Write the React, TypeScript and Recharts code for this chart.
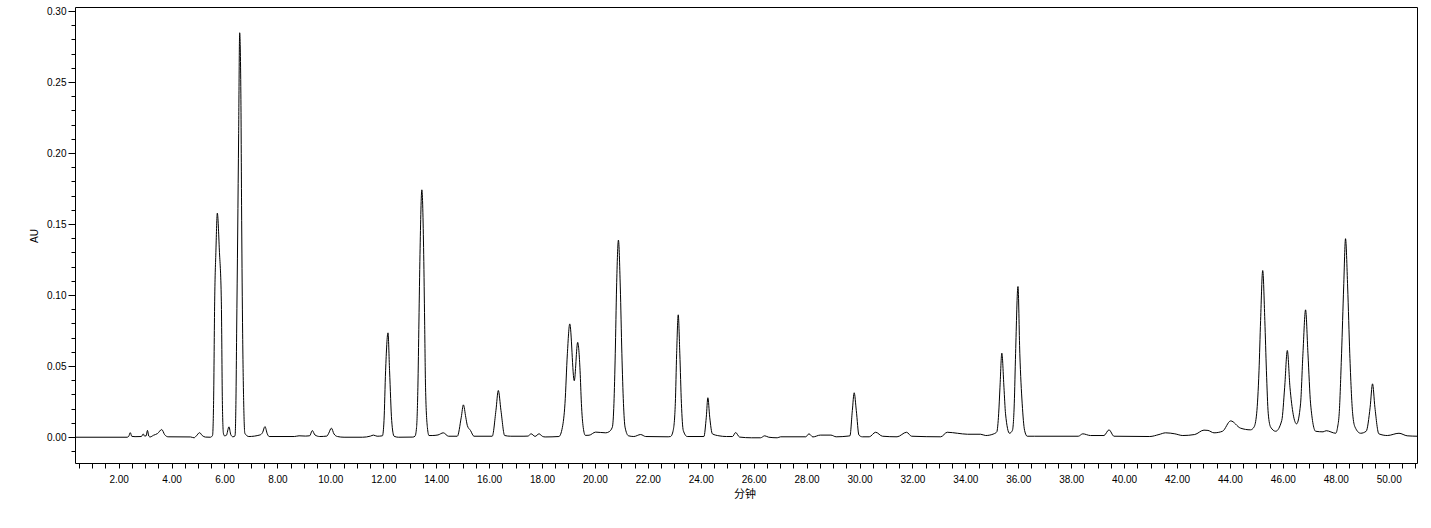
import { LineChart, Line, XAxis, YAxis, ReferenceLine } from 'recharts'

// retention time (min) and detector response (AU)
const TIME_MIN = [
  0.35, 2.3, 2.36, 2.42, 2.48, 2.6, 2.84, 2.91, 2.96, 3.02, 3.07, 3.12, 3.17, 3.3, 3.45, 3.61, 3.72, 3.85,
  4.7, 4.83, 4.92, 5.04, 5.14, 5.26, 5.45, 5.53, 5.57, 5.61, 5.658, 5.71, 5.787, 5.862, 5.9, 5.94,
  5.98, 6.05, 6.15, 6.22, 6.3, 6.38, 6.414, 6.44, 6.48, 6.516, 6.555, 6.6, 6.63, 6.667, 6.705, 6.75,
  6.9, 7.32, 7.42, 7.51, 7.6, 7.67, 8.62, 8.8, 9.05, 9.2, 9.3, 9.4, 9.58, 9.85, 9.92, 10.02, 10.12, 10.25,
  10.5, 11.2, 11.5, 11.61, 11.75, 11.95, 12.01, 12.07, 12.16, 12.22, 12.3, 12.39, 12.55,
  13.1, 13.18, 13.24, 13.29, 13.33, 13.37, 13.44, 13.51, 13.545, 13.58, 13.65, 13.71, 13.83,
  14.05, 14.25, 14.45, 14.78, 14.93, 15.01, 15.1, 15.16, 15.28, 15.41,
  16.1, 16.24, 16.33, 16.43, 16.57, 16.8, 17.3, 17.45, 17.57, 17.72, 17.87, 18.0, 18.1,
  18.62, 18.75, 18.85, 18.94, 19.03, 19.2, 19.33, 19.42, 19.47, 19.54, 19.62, 19.76, 20.01, 20.39,
  20.51, 20.64, 20.7, 20.75, 20.8, 20.87, 20.94, 21.0, 21.06, 21.12, 21.25, 21.45, 21.71, 21.9,
  22.75, 22.84, 22.94, 23.02, 23.07, 23.13, 23.19, 23.25, 23.32, 23.47,
  24.1, 24.19, 24.25, 24.32, 24.42, 24.67, 24.95, 25.18, 25.3, 25.45, 25.9, 26.24, 26.4, 26.55,
  26.87, 27.0, 27.95, 28.07, 28.22, 28.5, 28.9, 29.1, 29.55, 29.62, 29.71, 29.78, 29.86, 29.96, 30.09,
  30.35, 30.59, 30.85, 31.4, 31.76, 31.95, 33.05, 33.3, 33.68, 34.06, 34.56, 34.75, 35.06,
  35.17, 35.24, 35.29, 35.36, 35.44, 35.5, 35.65, 35.76, 35.83, 35.88, 35.97, 36.04, 36.13, 36.22, 36.32,
  36.6, 38.25, 38.42, 38.71, 39.22, 39.41, 39.6, 40.95, 41.3, 41.55, 41.9, 42.2, 42.65,
  43.0, 43.15, 43.38, 43.7, 44.01, 44.38, 44.76, 44.89, 44.99, 45.08, 45.14, 45.22, 45.3, 45.36, 45.43,
  45.52, 45.71, 45.94, 46.05, 46.15, 46.25, 46.5, 46.65, 46.74, 46.84, 46.93, 47.03, 47.22,
  47.5, 47.62, 47.98, 48.05, 48.11, 48.2, 48.28, 48.35, 48.43, 48.51, 48.62, 48.71, 48.92,
  49.13, 49.28, 49.37, 49.46, 49.61, 49.93, 50.37, 50.68, 51.06,
]

const ABSORBANCE_AU = [
  0.0002, 0.0002, 0.0008, 0.0034, 0.0008, 0.0006, 0.0007, 0.0025, 0.001, 0.0012, 0.005, 0.001, 0.0004, 0.0016, 0.0028, 0.0056, 0.002, 0.0005,
  0.0004, -0.0002, 0.0012, 0.0034, 0.0014, 0.0003, 0.0002, 0.0015, 0.026, 0.096, 0.132, 0.158, 0.132, 0.096, 0.026, 0.003,
  0.0012, 0.0015, 0.0075, 0.002, 0.0005, 0.0012, 0.026, 0.073, 0.144, 0.214, 0.285, 0.242, 0.153, 0.073, 0.026, 0.003,
  0.0007, 0.0018, 0.0035, 0.0077, 0.0025, 0.0007, 0.0007, 0.0012, 0.001, 0.0012, 0.0049, 0.0018, 0.0007, 0.001, 0.003, 0.0066, 0.0025, 0.0007,
  0.0002, 0.0002, 0.001, 0.0017, 0.0009, 0.0012, 0.012, 0.047, 0.0737, 0.047, 0.012, 0.0009, 0.0002,
  0.0003, 0.0009, 0.007, 0.035, 0.082, 0.129, 0.1744, 0.129, 0.082, 0.035, 0.007, 0.0014, 0.0014,
  0.0018, 0.0033, 0.0009, 0.0009, 0.0143, 0.023, 0.0143, 0.0084, 0.0049, 0.0009,
  0.0009, 0.019, 0.0331, 0.019, 0.0014, 0.0009, 0.0009, 0.001, 0.0026, 0.0008, 0.0026, 0.0008, 0.0004,
  0.0007, 0.007, 0.024, 0.059, 0.08, 0.04, 0.067, 0.047, 0.024, 0.007, 0.0015, 0.0016, 0.0038, 0.0033,
  0.004, 0.0073, 0.024, 0.059, 0.106, 0.139, 0.106, 0.059, 0.024, 0.0073, 0.0012, 0.0007, 0.0021, 0.0007,
  0.0005, 0.0007, 0.005, 0.024, 0.059, 0.0864, 0.059, 0.024, 0.005, 0.0007,
  0.0007, 0.0143, 0.028, 0.0143, 0.0026, 0.0012, 0.0007, 0.0007, 0.0035, 0.0003, -0.0002, -0.0002, 0.0012, 0.0002,
  -0.0002, 0.0005, 0.0005, 0.0026, 0.0004, 0.0017, 0.0017, 0.0005, 0.001, 0.0012, 0.019, 0.0315, 0.019, 0.0017, 0.0005,
  0.0005, 0.0037, 0.0009, 0.0005, 0.0037, 0.0009, 0.0005, 0.0037, 0.003, 0.0023, 0.0023, 0.0014, 0.0026,
  0.004, 0.0167, 0.0354, 0.0594, 0.0354, 0.0167, 0.003, 0.005, 0.0237, 0.059, 0.1063, 0.059, 0.0237, 0.005, 0.0009,
  0.0009, 0.0009, 0.0026, 0.0014, 0.0014, 0.0054, 0.0009, 0.0007, 0.0021, 0.0033, 0.0026, 0.0014, 0.0021,
  0.0052, 0.005, 0.0033, 0.0044, 0.0117, 0.0066, 0.0054, 0.0073, 0.0167, 0.047, 0.0824, 0.1176, 0.0824, 0.047, 0.0167,
  0.0073, 0.0044, 0.012, 0.0354, 0.0613, 0.0354, 0.0096, 0.0237, 0.059, 0.0899, 0.059, 0.0237, 0.0044,
  0.004, 0.0048, 0.003, 0.0073, 0.0167, 0.059, 0.106, 0.14, 0.106, 0.059, 0.0167, 0.0073, 0.003,
  0.0044, 0.0213, 0.0378, 0.0213, 0.0026, 0.0014, 0.003, 0.0012, 0.0009,
]

const X_LABELS = [2, 4, 6, 8, 10, 12, 14, 16, 18, 20, 22, 24, 26, 28, 30, 32, 34, 36, 38, 40, 42, 44, 46, 48, 50]
const Y_LABELS = [0, 0.05, 0.1, 0.15, 0.2, 0.25, 0.3]
const Y_TICKS = [
  -0.01, 0, 0.01, 0.02, 0.03, 0.04, 0.05, 0.06, 0.07, 0.08, 0.09, 0.1, 0.11, 0.12, 0.13, 0.14, 0.15,
  0.16, 0.17, 0.18, 0.19, 0.2, 0.21, 0.22, 0.23, 0.24, 0.25, 0.26, 0.27, 0.28, 0.29, 0.3,
]
// minor ticks every half minute
const X_TICKS = Array.from({ length: 102 }, (_, i) => (i + 1) * 0.5)

const X_DOMAIN: [number, number] = [0.35, 51.07]
const Y_DOMAIN: [number, number] = [-0.0183, 0.3028]

const chartData = TIME_MIN.map((t, i) => ({ t, au: ABSORBANCE_AU[i] }))

const tickFont = {
  fontFamily: '"Liberation Sans", Arial, sans-serif',
  fontSize: 10,
  fill: '#000',
}

const isLabel = (list: number[], v: number) => list.some((l) => Math.abs(l - v) < 1e-6)

function XTick({ x, y, payload }: any) {
  const v = payload.value
  const px = Math.floor(x) + 0.5
  return (
    <g>
      <line x1={px} x2={px} y1={y} y2={y + 5} stroke="#000" />
      {isLabel(X_LABELS, v) && (
        <text x={x} y={y + 19.5} textAnchor="middle" {...tickFont}>
          {v.toFixed(2)}
        </text>
      )}
    </g>
  )
}

function YTick({ x, y, payload }: any) {
  const v = payload.value
  const major = isLabel(Y_LABELS, v)
  const len = major ? 7 : 4
  const py = Math.floor(y) + 0.5
  return (
    <g>
      <line x1={x - len} x2={x} y1={py} y2={py} stroke="#000" />
      {major && (
        <text x={x - 9} y={y + 3.5} textAnchor="end" {...tickFont}>
          {v.toFixed(2)}
        </text>
      )}
    </g>
  )
}

export default function App() {
  return (
    <div style={{ position: 'absolute', left: 0, top: 0, width: 1431, height: 528, background: '#fff' }}>
      <LineChart
        width={1431}
        height={528}
        data={chartData}
        margin={{ top: 7.5, right: 13.5, bottom: 34.5, left: 15.5 }}
      >
        <XAxis
          dataKey="t"
          type="number"
          domain={X_DOMAIN}
          ticks={X_TICKS}
          interval={0}
          height={30}
          tickSize={0}
          tickMargin={0}
          tickLine={false}
          tick={<XTick />}
          axisLine={{ stroke: '#000' }}
        />
        <YAxis
          type="number"
          domain={Y_DOMAIN}
          ticks={Y_TICKS}
          interval={0}
          width={60}
          tickSize={0}
          tickMargin={0}
          tickLine={false}
          tick={<YTick />}
          axisLine={{ stroke: '#000' }}
        />
        <ReferenceLine y={Y_DOMAIN[1]} stroke="#000" ifOverflow="visible" />
        <ReferenceLine x={X_DOMAIN[1]} stroke="#000" ifOverflow="visible" />
        <Line
          type="monotone"
          dataKey="au"
          stroke="#000"
          strokeWidth={1}
          dot={false}
          isAnimationActive={false}
        />
      </LineChart>
      <div
        style={{
          position: 'absolute',
          left: 35,
          top: 236,
          transform: 'translate(-50%, -50%) rotate(-90deg)',
          fontFamily: '"Liberation Sans", Arial, sans-serif',
          fontSize: 10,
          color: '#000',
          lineHeight: 1,
        }}
      >
        AU
      </div>
      <div
        style={{
          position: 'absolute',
          left: 745,
          top: 493,
          transform: 'translate(-50%, -50%)',
          fontFamily: '"Noto Sans CJK SC", sans-serif',
          fontSize: 11,
          color: '#000',
          lineHeight: 1,
        }}
      >
        分钟
      </div>
    </div>
  )
}
